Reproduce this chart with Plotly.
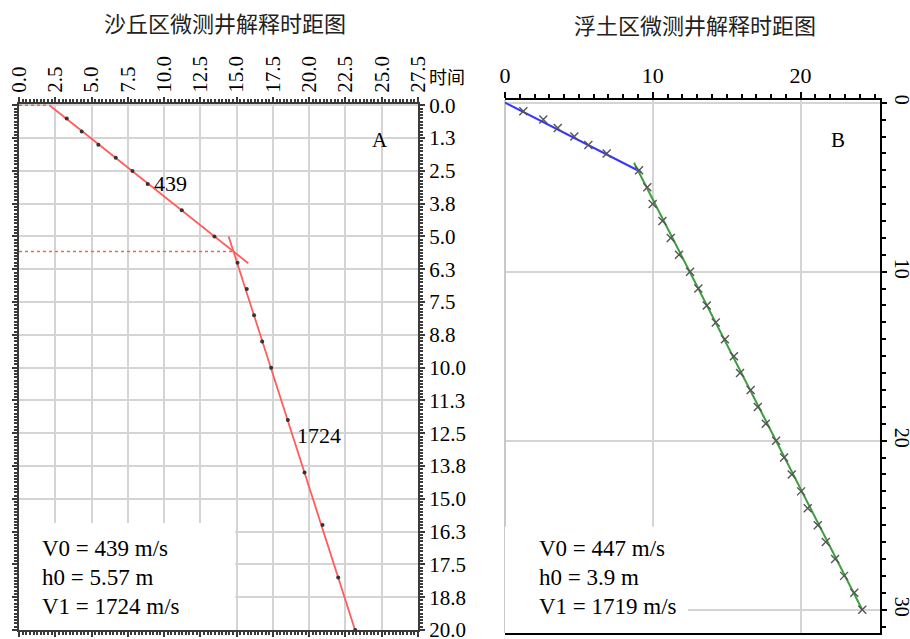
import plotly.graph_objects as go

W, H = 910, 639

# ---------------- Panel A data (time in ms, depth in m) ----------------
a_depth = [0.5, 1, 1.5, 2, 2.5, 3, 4, 5, 6, 7, 8, 9, 10, 12, 14, 16, 18, 20]
a_time = [3.29, 4.32, 5.47, 6.67, 7.82, 8.87, 11.22, 13.47, 15.06, 15.7, 16.2,
          16.76, 17.38, 18.53, 19.68, 20.92, 22.0, 23.17]
a_fit0_t = [2.1, 15.8]
a_fit0_d = [0.0, 6.02]
a_fit1_t = [14.45, 23.16]
a_fit1_d = [5.0, 20.0]
a_top_t = [0.0, 2.1]
a_top_d = [0.0, 0.0]
a_h0_t = [0.0, 14.79]
a_h0_d = [5.57, 5.57]
a_xticks = [0, 2.5, 5, 7.5, 10, 12.5, 15, 17.5, 20, 22.5, 25, 27.5]
a_xticktext = ["0.0", "2.5", "5.0", "7.5", "10.0", "12.5", "15.0", "17.5",
               "20.0", "22.5", "25.0", "27.5"]
a_yticks = [0, 1.25, 2.5, 3.75, 5, 6.25, 7.5, 8.75, 10, 11.25, 12.5, 13.75,
            15, 16.25, 17.5, 18.75, 20]
a_yticktext = ["0.0", "1.3", "2.5", "3.8", "5.0", "6.3", "7.5", "8.8", "10.0",
               "11.3", "12.5", "13.8", "15.0", "16.3", "17.5", "18.8", "20.0"]
a_text = ["V0 = 439 m/s", "h0 = 5.57 m", "V1 = 1724 m/s"]

# ---------------- Panel B data ----------------
b0_depth = [0.5, 1, 1.5, 2, 2.5, 3, 4]
b0_time = [1.24, 2.59, 3.57, 4.69, 5.64, 6.88, 9.07]
b1_depth = [5, 6, 7, 8, 9, 10, 11, 12, 13, 14, 15, 16, 17, 18, 19, 20, 21, 22,
            23, 24, 25, 26, 27, 28, 29, 30]
b1_time = [9.63, 9.99, 10.65, 11.21, 11.77, 12.52, 13.08, 13.65, 14.26, 14.88,
           15.49, 15.9, 16.62, 17.1, 17.64, 18.34, 18.88, 19.4, 20.03, 20.48,
           21.16, 21.7, 22.33, 22.94, 23.63, 24.17]
b_fit0_t = [0.0, 9.2]
b_fit0_d = [0.0, 4.1]
b_fit1_t = [8.73, 24.17]
b_fit1_d = [3.55, 30.0]
b_xticks = [0, 10, 20]
b_yticks = [0, 10, 20, 30]
b_text = ["V0 = 447 m/s", "h0 = 3.9 m", "V1 = 1719 m/s"]


def px(x):
    return x / W


def py(y):
    return 1 - y / H


SERIF = "Liberation Serif"
CJK = "Noto Sans CJK SC"
AX = "#3a3a3a"
GRID = "#d4d4d4"

fig = go.Figure()

red = "#ff5c5c"
fig.add_trace(go.Scatter(x=a_top_t, y=a_top_d, mode="lines",
                         line=dict(color=red, width=1.6, dash="dot"),
                         xaxis="x", yaxis="y", showlegend=False, cliponaxis=False))
fig.add_trace(go.Scatter(x=a_h0_t, y=a_h0_d, mode="lines",
                         line=dict(color=red, width=1.6, dash="dot"),
                         xaxis="x", yaxis="y", showlegend=False))
fig.add_trace(go.Scatter(x=a_fit0_t, y=a_fit0_d, mode="lines",
                         line=dict(color=red, width=1.8),
                         xaxis="x", yaxis="y", showlegend=False))
fig.add_trace(go.Scatter(x=a_fit1_t, y=a_fit1_d, mode="lines",
                         line=dict(color=red, width=1.8),
                         xaxis="x", yaxis="y", showlegend=False))
fig.add_trace(go.Scatter(x=a_time, y=a_depth, mode="markers",
                         marker=dict(symbol="circle", size=4, color="#333333"),
                         xaxis="x", yaxis="y", showlegend=False, cliponaxis=False))

fig.add_trace(go.Scatter(x=b_fit0_t, y=b_fit0_d, mode="lines",
                         line=dict(color="#3535ff", width=2),
                         xaxis="x2", yaxis="y2", showlegend=False))
fig.add_trace(go.Scatter(x=b_fit1_t, y=b_fit1_d, mode="lines",
                         line=dict(color="#3f9e3f", width=2),
                         xaxis="x2", yaxis="y2", showlegend=False))
fig.add_trace(go.Scatter(x=b0_time + b1_time, y=b0_depth + b1_depth, mode="markers",
                         marker=dict(symbol="x-thin", size=8,
                                     line=dict(color="#555555", width=1.4)),
                         xaxis="x2", yaxis="y2", showlegend=False))

tickfont = dict(family=SERIF, size=21, color="black")

fig.update_layout(
    width=W, height=H,
    margin=dict(l=0, r=0, t=0, b=0, autoexpand=False),
    paper_bgcolor="white", plot_bgcolor="white",
    xaxis=dict(domain=[px(19), px(418)], range=[0, 27.5], side="top",
               anchor="y", tickmode="array", tickvals=a_xticks,
               ticktext=a_xticktext, tickangle=-90, tickfont=tickfont,
               ticks="outside", ticklen=5, tickcolor=AX, tickwidth=1.5,
               showline=True, linecolor=AX, linewidth=2, mirror="ticks",
               showgrid=True, gridcolor=GRID, gridwidth=1.5, zeroline=False,
               automargin=False, ticklabeloverflow="allow",
               minor=dict(dtick=0.25, ticklen=3, tickcolor=AX, ticks="outside",
                          showgrid=False)),
    yaxis=dict(domain=[py(630), py(104)], range=[20, -0.05], side="right",
               anchor="x", tickmode="array", tickvals=a_yticks,
               ticktext=a_yticktext, tickfont=tickfont,
               ticks="outside", ticklen=5, tickcolor=AX, tickwidth=1.5,
               showline=True, linecolor=AX, linewidth=2, mirror="ticks",
               showgrid=True, gridcolor=GRID, gridwidth=1.5, zeroline=False,
               automargin=False, ticklabeloverflow="allow",
               minor=dict(dtick=0.125, ticklen=3, tickcolor=AX, ticks="outside",
                          showgrid=False)),
    xaxis2=dict(domain=[px(505), px(880)], range=[0, 25.37], side="top",
                anchor="y2", tickmode="array", tickvals=b_xticks,
                tickfont=dict(family=SERIF, size=22, color="black"),
                ticks="outside", ticklen=6, tickcolor="black", tickwidth=1.5,
                showline=True, linecolor="black", linewidth=2, mirror=True,
                showgrid=True, gridcolor=GRID, gridwidth=1.5,
                zeroline=True, zerolinecolor="#c8c8c8", zerolinewidth=2,
                automargin=False, ticklabeloverflow="allow",
                minor=dict(dtick=1, ticklen=4, tickcolor="black", ticks="outside",
                           showgrid=False)),
    yaxis2=dict(domain=[py(633), py(100)], range=[31.38, -0.16], side="right",
                anchor="x2", tickmode="array", tickvals=b_yticks,
                tickangle=90,
                tickfont=dict(family=SERIF, size=20, color="black"),
                ticks="outside", ticklen=5, tickcolor="black", tickwidth=1.5,
                ticklabelstandoff=0,
                showline=True, linecolor="black", linewidth=2, mirror=False,
                showgrid=True, gridcolor=GRID, gridwidth=1.5, zeroline=False,
                automargin=False, ticklabeloverflow="allow",
                minor=dict(dtick=1, ticklen=4, tickcolor="black", ticks="outside",
                           showgrid=False)),
)

# white boxes behind the parameter texts (hide grid)
fig.add_shape(type="rect", xref="x", yref="y", x0=0, x1=14.9, y0=15.92, y1=20,
              fillcolor="white", line=dict(width=0), layer="between")
fig.add_shape(type="rect", xref="x2", yref="y2", x0=0, x1=12.38, y0=25.1, y1=31.38,
              fillcolor="white", line=dict(width=0), layer="between")

ann = []
ann.append(dict(text="沙丘区微测井解释时距图", x=px(225), y=py(22), xref="paper",
                yref="paper", showarrow=False, xanchor="center", yanchor="middle",
                font=dict(family=CJK, size=22, color="#222")))
ann.append(dict(text="浮土区微测井解释时距图", x=px(695), y=py(24), xref="paper",
                yref="paper", showarrow=False, xanchor="center", yanchor="middle",
                font=dict(family=CJK, size=22, color="#222")))
ann.append(dict(text="时间", x=px(427), y=py(76), xref="paper", yref="paper",
                showarrow=False, xanchor="left", yanchor="middle",
                font=dict(family=CJK, size=18, color="black")))
ann.append(dict(text="439", x=9.17, y=2.97, xref="x", yref="y", showarrow=False,
                xanchor="left", yanchor="middle",
                font=dict(family=SERIF, size=22, color="black")))
ann.append(dict(text="1724", x=19.03, y=12.57, xref="x", yref="y", showarrow=False,
                xanchor="left", yanchor="middle",
                font=dict(family=SERIF, size=22, color="black")))
ann.append(dict(text="A", x=px(380), y=py(140), xref="paper", yref="paper",
                showarrow=False, xanchor="center", yanchor="middle",
                font=dict(family=SERIF, size=21, color="black")))
ann.append(dict(text="B", x=px(838), y=py(140), xref="paper", yref="paper",
                showarrow=False, xanchor="center", yanchor="middle",
                font=dict(family=SERIF, size=21, color="black")))
for i, t in enumerate(a_text):
    ann.append(dict(text=t, x=px(40), y=py(548 + 29 * i), xref="paper",
                    yref="paper", showarrow=False, xanchor="left",
                    yanchor="middle",
                    font=dict(family=SERIF, size=23, color="black")))
for i, t in enumerate(b_text):
    ann.append(dict(text=t, x=px(537), y=py(548 + 29 * i), xref="paper",
                    yref="paper", showarrow=False, xanchor="left",
                    yanchor="middle",
                    font=dict(family=SERIF, size=23, color="black")))
fig.update_layout(annotations=ann)

fig.write_html("out.html")
